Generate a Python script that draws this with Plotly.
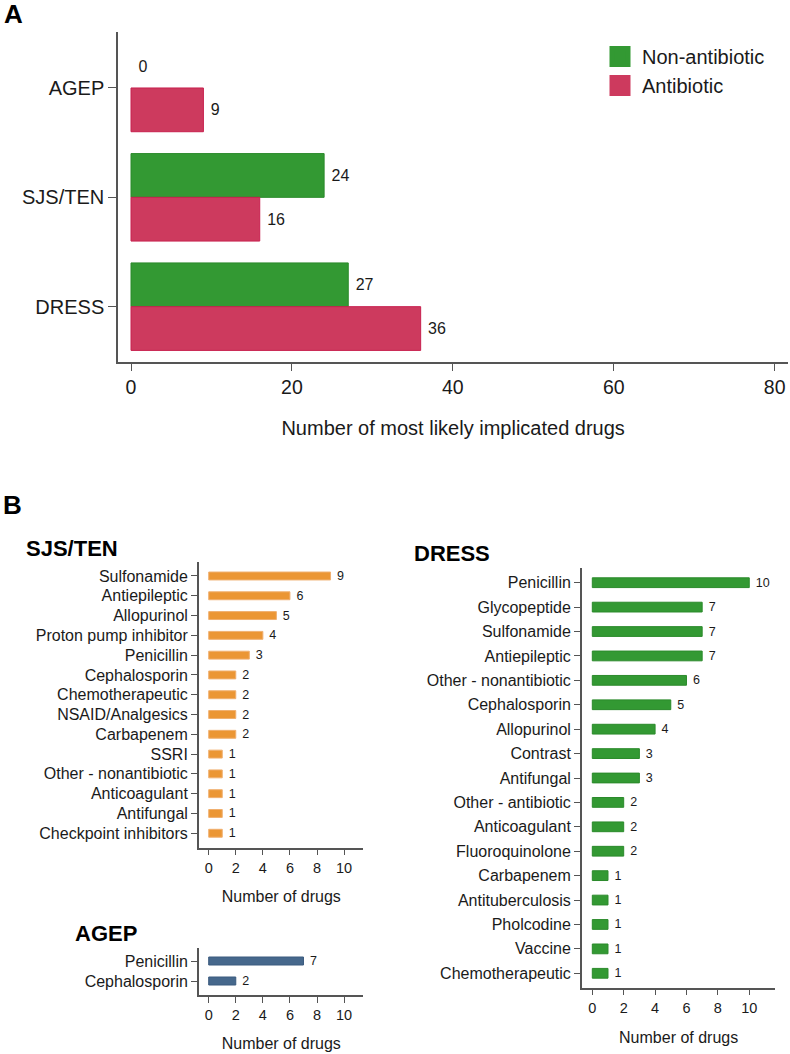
import plotly.graph_objects as go

W, H = 790, 1054

# ---------------- data ----------------
# Panel A
reactions = ["AGEP", "SJS/TEN", "DRESS"]
non_antibiotic = [0, 24, 27]
antibiotic = [9, 16, 36]

# Panel B
sjs_classes = ["Sulfonamide", "Antiepileptic", "Allopurinol", "Proton pump inhibitor",
               "Penicillin", "Cephalosporin", "Chemotherapeutic", "NSAID/Analgesics",
               "Carbapenem", "SSRI", "Other - nonantibiotic", "Anticoagulant",
               "Antifungal", "Checkpoint inhibitors"]
sjs_counts = [9, 6, 5, 4, 3, 2, 2, 2, 2, 1, 1, 1, 1, 1]

dress_classes = ["Penicillin", "Glycopeptide", "Sulfonamide", "Antiepileptic",
                 "Other - nonantibiotic", "Cephalosporin", "Allopurinol", "Contrast",
                 "Antifungal", "Other - antibiotic", "Anticoagulant", "Fluoroquinolone",
                 "Carbapenem", "Antituberculosis", "Pholcodine", "Vaccine", "Chemotherapeutic"]
dress_counts = [10, 7, 7, 7, 6, 5, 4, 3, 3, 2, 2, 2, 1, 1, 1, 1, 1]

agep_classes = ["Penicillin", "Cephalosporin"]
agep_counts = [7, 2]

# ---------------- style ----------------
FONT = "Arial, Liberation Sans, sans-serif"
TXT = "#1a1a1a"
AX = "#555555"
GREEN, GREEN_EDGE = "#339933", "#2b8a2b"
RED, RED_EDGE = "#cd3a5e", "#c8214f"
ORANGE, ORANGE_EDGE = "#eb9634", "#f0b070"
BLUE, BLUE_EDGE = "#46688c", "#3a5a7e"


def px_x(p):
    return p / W


def px_y(p):
    return 1 - p / H


def edge_widths(vals):
    # no outline on zero-length bars
    return [0 if v == 0 else 1 for v in vals]


fig = go.Figure()

# ---------- Panel A ----------
fig.add_trace(go.Bar(
    y=reactions, x=non_antibiotic, orientation="h", name="Non-antibiotic",
    marker=dict(color=GREEN, line=dict(color=GREEN_EDGE, width=edge_widths(non_antibiotic))),
    width=0.4, offset=-0.4,
    texttemplate="\u00a0%{x}", textposition="outside", constraintext="none",
    outsidetextfont=dict(size=16, color=TXT, family=FONT), cliponaxis=False,
    xaxis="x", yaxis="y", showlegend=False))
fig.add_trace(go.Bar(
    y=reactions, x=antibiotic, orientation="h", name="Antibiotic",
    marker=dict(color=RED, line=dict(color=RED_EDGE, width=edge_widths(antibiotic))),
    width=0.4, offset=0,
    texttemplate="\u00a0%{x}", textposition="outside", constraintext="none",
    outsidetextfont=dict(size=16, color=TXT, family=FONT), cliponaxis=False,
    xaxis="x", yaxis="y", showlegend=False))

# legend entries (larger square symbols)
for nm, col in [("Non-antibiotic", GREEN), ("Antibiotic", RED)]:
    fig.add_trace(go.Scatter(
        x=[None], y=[None], mode="markers", name=nm,
        marker=dict(symbol="square", size=16, color=col, line=dict(color=col, width=5)),
        xaxis="x", yaxis="y", showlegend=True, hoverinfo="skip"))

# ---------- Panel B ----------
def hbar(cats, vals, color, edge, xa, ya):
    return go.Bar(
        y=cats, x=vals, orientation="h", width=0.4,
        marker=dict(color=color, line=dict(color=edge, width=1)),
        texttemplate="\u00a0%{x}", textposition="outside", constraintext="none",
        outsidetextfont=dict(size=12.5, color=TXT, family=FONT), cliponaxis=False,
        xaxis=xa, yaxis=ya, showlegend=False)


fig.add_trace(hbar(sjs_classes, sjs_counts, ORANGE, ORANGE_EDGE, "x2", "y2"))
fig.add_trace(hbar(dress_classes, dress_counts, GREEN, GREEN_EDGE, "x3", "y3"))
fig.add_trace(hbar(agep_classes, agep_counts, BLUE, BLUE_EDGE, "x4", "y4"))

common_x = dict(showline=True, linecolor=AX, linewidth=1.5, ticks="outside",
                tickcolor=AX, tickwidth=1.3, showgrid=False, zeroline=False,
                fixedrange=True)
common_y = dict(showline=True, linecolor=AX, linewidth=1.5, ticks="outside",
                tickcolor=AX, tickwidth=1.3, showgrid=False, zeroline=False,
                type="category", fixedrange=True)

fig.update_layout(
    width=W, height=H,
    margin=dict(l=0, r=0, t=0, b=0),
    paper_bgcolor="white", plot_bgcolor="white",
    font=dict(family=FONT, color=TXT),
    barmode="overlay",
    showlegend=True,
    legend=dict(x=px_x(598), y=px_y(37), xanchor="left", yanchor="top",
                font=dict(size=20, color=TXT), itemwidth=34,
                bgcolor="rgba(0,0,0,0)", borderwidth=0, itemsizing="trace"),
    # Panel A
    xaxis=dict(common_x, domain=[px_x(118), px_x(788.3)], range=[-1.616, 81.69],
               anchor="y", tick0=0, dtick=20, ticklen=7,
               tickfont=dict(size=19.5), ticklabelstandoff=0,
               title=dict(text="Number of most likely implicated drugs",
                          font=dict(size=20), standoff=24)),
    yaxis=dict(common_y, domain=[px_y(362), px_y(32)], range=[2.506, -0.512],
               anchor="x", categoryorder="array", categoryarray=reactions,
               ticklen=8, tickfont=dict(size=20), ticklabelstandoff=0),
    # SJS/TEN
    xaxis2=dict(common_x, domain=[px_x(199.3), px_x(363.3)], range=[-0.695, 11.42],
                anchor="y2", tick0=0, dtick=2, ticklen=6,
                tickfont=dict(size=14.5), ticklabelstandoff=0,
                title=dict(text="Number of drugs", font=dict(size=16), standoff=16)),
    yaxis2=dict(common_y, domain=[px_y(847.7), px_y(562)], range=[13.73, -0.707],
                anchor="x2", categoryorder="array", categoryarray=sjs_classes,
                ticklen=6.5, tickfont=dict(size=16), ticklabelstandoff=0),
    # DRESS
    xaxis3=dict(common_x, domain=[px_x(582.3), px_x(775)], range=[-0.637, 11.64],
                anchor="y3", tick0=0, dtick=2, ticklen=6,
                tickfont=dict(size=14.5), ticklabelstandoff=0,
                title=dict(text="Number of drugs", font=dict(size=16), standoff=17)),
    yaxis3=dict(common_y, domain=[px_y(987.7), px_y(568)], range=[16.59, -0.602],
                anchor="x3", categoryorder="array", categoryarray=dress_classes,
                ticklen=6.5, tickfont=dict(size=16), ticklabelstandoff=0),
    # AGEP
    xaxis4=dict(common_x, domain=[px_x(199.3), px_x(363.3)], range=[-0.695, 11.42],
                anchor="y4", tick0=0, dtick=2, ticklen=6,
                tickfont=dict(size=14.5), ticklabelstandoff=0,
                title=dict(text="Number of drugs", font=dict(size=16), standoff=16)),
    yaxis4=dict(common_y, domain=[px_y(995), px_y(947.7)], range=[1.7, -0.665],
                anchor="x4", categoryorder="array", categoryarray=agep_classes,
                ticklen=6.5, tickfont=dict(size=16), ticklabelstandoff=0),
)

panel_titles = [
    ("A", 2, 14, 26),
    ("B", 1, 505, 26),
    ("SJS/TEN", 24, 548, 22),
    ("DRESS", 412, 553, 22),
    ("AGEP", 73, 933, 22),
]
for txt, xp, yp, sz in panel_titles:
    fig.add_annotation(text="<b>%s</b>" % txt, x=px_x(xp), y=px_y(yp),
                       xref="paper", yref="paper", xanchor="left", yanchor="middle",
                       showarrow=False, font=dict(size=sz, color="#000000", family=FONT))

fig.write_html("out.html",
               config={"displayModeBar": False},
               post_script="document.body.style.margin='0';document.body.style.overflow='hidden';")
